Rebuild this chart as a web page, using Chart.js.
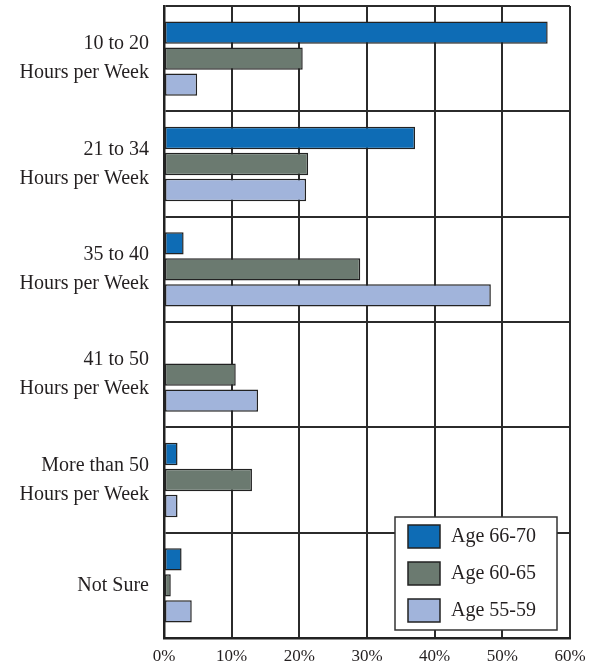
<!DOCTYPE html>
<html>
<head>
<meta charset="utf-8">
<script src="https://cdn.jsdelivr.net/npm/chart.js@4.4.1/dist/chart.umd.min.js"></script>
<style>
html,body{margin:0;padding:0;background:#fff;}
#wrap{width:602px;height:666px;}
</style>
</head>
<body>
<div id="wrap"><canvas id="c" width="602" height="666"></canvas></div>
<script>
const categories = [
  ["10 to 20", "Hours per Week"],
  ["21 to 34", "Hours per Week"],
  ["35 to 40", "Hours per Week"],
  ["41 to 50", "Hours per Week"],
  ["More than 50", "Hours per Week"],
  ["Not Sure"]
];
const seriesLabels = ["Age 66-70", "Age 60-65", "Age 55-59"];
const age6670 = [56.7, 37.1, 2.9, 0, 2.0, 2.6];
const age6065 = [20.5, 21.3, 29.0, 10.6, 13.0, 1.0];
const age5559 = [4.9, 21.0, 48.3, 13.9, 2.0, 4.1];
const xTicks = [0, 10, 20, 30, 40, 50, 60];

const colors = ["#0e6cb5", "#6b7a70", "#a1b4db"];
const FONT = "'Liberation Serif', 'Times New Roman', serif";
const INK = "#231f20";

const legendPlugin = {
  id: 'boxLegend',
  afterDraw(chart) {
    const ctx = chart.ctx;
    const x = 395, y = 517, w = 162, h = 113;
    ctx.save();
    ctx.fillStyle = '#fff';
    ctx.fillRect(x, y, w, h);
    ctx.strokeStyle = '#333';
    ctx.lineWidth = 1.5;
    ctx.strokeRect(x, y, w, h);
    ctx.font = '20px ' + FONT;
    ctx.textBaseline = 'middle';
    chart.data.datasets.forEach((ds, i) => {
      const sy = 525 + i * 37;
      ctx.fillStyle = ds.backgroundColor;
      ctx.fillRect(408, sy, 32, 23);
      ctx.strokeStyle = '#222';
      ctx.lineWidth = 1.5;
      ctx.strokeRect(408, sy, 32, 23);
      ctx.fillStyle = INK;
      ctx.fillText(ds.label, 451, sy + 12);
    });
    ctx.restore();
  }
};

new Chart(document.getElementById('c'), {
  type: 'bar',
  data: {
    labels: categories,
    datasets: [
      { label: seriesLabels[0], data: age6670, backgroundColor: colors[0] },
      { label: seriesLabels[1], data: age6065, backgroundColor: colors[1] },
      { label: seriesLabels[2], data: age5559, backgroundColor: colors[2] }
    ].map(d => Object.assign(d, { borderColor: '#222', borderWidth: 1.5, borderSkipped: false,
      categoryPercentage: 0.74, barPercentage: 0.86 }))
  },
  options: {
    indexAxis: 'y',
    responsive: false,
    animation: false,
    devicePixelRatio: 1,
    layout: { padding: { left: 0, right: 32, top: 6, bottom: 0 } },
    plugins: { legend: { display: false }, tooltip: { enabled: false } },
    scales: {
      x: {
        min: 0, max: 60,
        afterBuildTicks(scale) { scale.ticks = xTicks.map(v => ({ value: v })); },
        afterFit(scale) { scale.height = 28; scale.paddingLeft = 0; scale.paddingRight = 0; },
        grid: { color: '#2b2b2b', lineWidth: 2, drawTicks: false },
        border: { color: '#222', width: 2.5 },
        ticks: { color: INK, font: { family: FONT, size: 17 }, padding: 8,
          callback: v => v + '%' }
      },
      y: {
        afterFit(scale) { scale.width = 164; scale.paddingTop = 0; scale.paddingBottom = 0; },
        grid: { color: '#2b2b2b', lineWidth: 2, drawTicks: false, offset: true },
        border: { color: '#222', width: 2.5 },
        ticks: { color: INK, font: { family: FONT, size: 20, lineHeight: 1.45 }, padding: 15 }
      }
    }
  },
  plugins: [legendPlugin]
});
</script>
</body>
</html>
